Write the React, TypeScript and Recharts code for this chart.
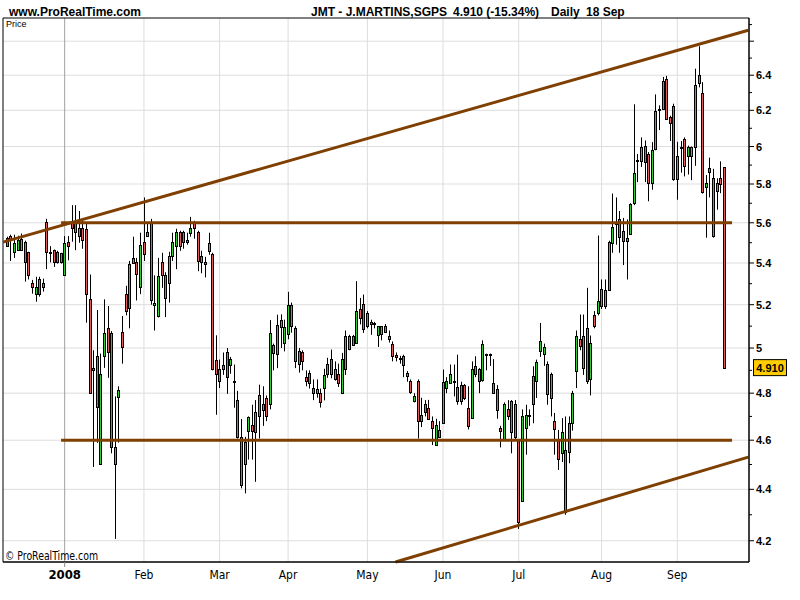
import React from "react";
import {
  ComposedChart,
  Bar,
  XAxis,
  YAxis,
  CartesianGrid,
  ReferenceLine,
  ReferenceArea,
  ReferenceDot,
} from "recharts";

// trading day index: 0 = 6 Dec 2007, 199 = 18 Sep 2008
const monthTicks = [16, 38, 59, 78, 100, 121, 142, 165, 186];
const monthLabels = ["2008", "Feb", "Mar", "Apr", "May", "Jun", "Jul", "Aug", "Sep"];

const priceTicks = [
  4.2, 4.3, 4.4, 4.5, 4.6, 4.7, 4.8, 4.9, 5, 5.1, 5.2, 5.3, 5.4, 5.5, 5.6, 5.7,
  5.8, 5.9, 6, 6.1, 6.2, 6.3, 6.4, 6.5, 6.6, 6.7,
];
const priceLabels = [4.2, 4.4, 4.6, 4.8, 5, 5.2, 5.4, 5.6, 5.8, 6, 6.2, 6.4];
const gridPrices = [4.2, 4.4, 4.6, 4.8, 5, 5.2, 5.4, 5.6, 5.8, 6, 6.2, 6.4, 6.6];

const opens = [
  5.525, 5.533, 5.455, 5.463, 5.463, 5.505, 5.455, 5.305, 5.252, 5.324,
  5.305, 5.605, 5.455, 5.463, 5.455, 5.447, 5.341, 5.505, 5.6, 5.6,
  5.533, 5.575, 5.567, 5.225, 4.901, 4.966, 4.5, 4.963, 5.093, 5.067,
  4.5, 4.782, 5.075, 5.252, 5.186, 5.4, 5.405, 5.284, 5.505, 5.533,
  5.605, 5.2, 5.147, 5.405, 5.341, 5.305, 5.433, 5.483, 5.555, 5.555,
  5.503, 5.55, 5.6, 5.555, 5.433, 5.405, 5.46, 5.446, 4.948, 4.852,
  4.904, 4.982, 4.923, 4.852, 4.771, 4.614, 4.501, 4.64, 4.664, 4.633,
  4.79, 4.728, 4.778, 4.753, 5.012, 4.973, 5.128, 5.023, 5.063, 5.198,
  5.09, 4.988, 4.98, 4.871, 4.889, 4.822, 4.8, 4.8, 4.822, 4.885,
  4.951, 4.86, 4.885, 4.8, 4.904, 5.057, 5.057, 5.023, 5.18, 5.203,
  5.16, 5.108, 5.115, 5.061, 5.066, 5.1, 5.057, 5.02, 4.97, 4.956,
  4.966, 4.873, 4.855, 4.765, 4.855, 4.679, 4.753, 4.736, 4.681, 4.582,
  4.614, 4.671, 4.822, 4.844, 4.855, 4.825, 4.764, 4.837, 4.735, 4.693,
  4.918, 4.852, 4.856, 4.972, 4.97, 4.845, 4.818, 4.65, 4.603, 4.731,
  4.767, 4.753, 4.6, 4.353, 4.65, 4.705, 4.754, 4.852, 4.985, 4.975,
  4.929, 4.884, 4.679, 4.607, 4.549, 4.309, 4.672, 4.672, 4.896, 5.04,
  4.911, 5.092, 4.862, 5.154, 5.16, 5.275, 5.192, 5.27, 5.5, 5.595,
  5.62, 5.558, 5.508, 5.545, 5.7, 5.93, 5.92, 6.005, 5.96, 5.804,
  5.987, 6.2, 6.206, 6.38, 6.163, 6.222, 5.826, 5.99, 6.04, 5.95,
  5.95, 5.996, 6.356, 6.3, 5.786, 5.882, 5.533, 5.766, 5.83, 5.89,
];

const highs = [
  5.53, 5.54, 5.54, 5.535, 5.546, 5.51, 5.455, 5.318, 5.333, 5.333,
  5.324, 5.62, 5.483, 5.466, 5.46, 5.45, 5.533, 5.533, 5.69, 5.69,
  5.66, 5.617, 5.6, 5.344, 4.99, 5.175, 4.975, 5.225, 5.194, 5.077,
  4.786, 4.83, 5.147, 5.29, 5.41, 5.53, 5.425, 5.55, 5.73, 5.6,
  5.62, 5.34, 5.425, 5.45, 5.355, 5.455, 5.55, 5.57, 5.56, 5.56,
  5.55, 5.63, 5.61, 5.56, 5.46, 5.43, 5.55, 5.45, 5.058, 4.948,
  4.98, 5.0, 4.96, 4.926, 4.81, 4.689, 4.614, 4.7, 4.75, 4.77,
  4.837, 4.83, 4.79, 5.128, 5.02, 5.153, 5.155, 5.13, 5.261, 5.21,
  5.1, 5.0, 4.99, 4.9, 4.9, 4.86, 4.86, 4.82, 4.907, 4.956,
  4.993, 4.94, 4.93, 4.978, 5.08, 5.06, 5.06, 5.312, 5.232, 5.248,
  5.17, 5.13, 5.12, 5.1, 5.1, 5.11, 5.08, 5.03, 4.98, 4.965,
  4.97, 4.897, 4.86, 4.8, 4.86, 4.78, 4.77, 4.771, 4.7, 4.69,
  4.68, 4.904, 4.87, 4.926, 4.926, 4.97, 4.85, 4.84, 4.83, 4.94,
  4.963, 4.91, 5.035, 4.975, 4.975, 4.95, 4.835, 4.66, 4.76, 4.77,
  4.77, 4.77, 4.6, 4.73, 4.75, 4.73, 4.918, 4.948, 5.115, 5.02,
  4.94, 4.89, 4.715, 4.643, 4.693, 4.7, 4.7, 4.81, 5.08, 5.154,
  5.154, 5.28, 5.057, 5.17, 5.536, 5.32, 5.32, 5.51, 5.75, 5.73,
  5.66, 5.625, 5.617, 5.7, 6.234, 5.96, 6.05, 6.033, 5.97, 6.024,
  6.29, 6.228, 6.39, 6.396, 6.17, 6.237, 6.026, 6.03, 6.05, 6.005,
  6.0, 6.438, 6.57, 6.36, 5.847, 5.94, 5.88, 5.83, 5.92, 5.89,
];

const lows = [
  5.48, 5.41, 5.425, 5.46, 5.463, 5.31, 5.32, 5.252, 5.214, 5.238,
  5.262, 5.37, 5.403, 5.381, 5.397, 5.397, 5.341, 5.413, 5.505, 5.463,
  5.5, 5.47, 5.116, 4.8, 4.49, 4.589, 4.5, 4.911, 4.867, 4.546,
  4.207, 4.59, 4.93, 5.15, 5.09, 5.4, 5.22, 5.25, 5.41, 5.53,
  5.2, 5.08, 5.14, 5.28, 5.142, 5.21, 5.41, 5.37, 5.46, 5.47,
  5.49, 5.53, 5.52, 5.36, 5.35, 5.33, 5.44, 4.9, 4.707, 4.822,
  4.88, 4.797, 4.885, 4.737, 4.607, 4.404, 4.384, 4.52, 4.52, 4.43,
  4.607, 4.66, 4.68, 4.73, 4.9, 4.91, 5.0, 4.985, 5.04, 5.07,
  4.91, 4.89, 4.9, 4.83, 4.82, 4.77, 4.78, 4.738, 4.769, 4.867,
  4.865, 4.855, 4.827, 4.8, 4.88, 4.99, 5.015, 5.02, 5.108, 5.069,
  5.09, 5.06, 5.09, 5.005, 5.035, 5.07, 5.025, 4.94, 4.94, 4.93,
  4.87, 4.85, 4.797, 4.76, 4.607, 4.655, 4.7, 4.689, 4.58, 4.58,
  4.614, 4.671, 4.8, 4.84, 4.786, 4.75, 4.75, 4.77, 4.645, 4.69,
  4.87, 4.8, 4.85, 4.9, 4.92, 4.8, 4.69, 4.57, 4.6, 4.685,
  4.546, 4.6, 4.245, 4.35, 4.54, 4.66, 4.671, 4.779, 4.96, 4.92,
  4.75, 4.7, 4.54, 4.478, 4.51, 4.3, 4.505, 4.64, 4.822, 4.99,
  4.88, 4.84, 4.79, 5.09, 5.15, 5.18, 5.18, 5.27, 5.45, 5.49,
  5.45, 5.39, 5.32, 5.54, 5.69, 5.81, 5.89, 5.81, 5.71, 5.77,
  5.98, 6.09, 6.206, 6.15, 6.03, 5.817, 5.718, 5.86, 5.84, 5.85,
  5.82, 5.896, 6.33, 5.75, 5.525, 5.73, 5.525, 5.667, 5.752, 4.91,
];

const closes = [
  5.483, 5.513, 5.497, 5.513, 5.516, 5.405, 5.341, 5.286, 5.286, 5.25,
  5.286, 5.455, 5.455, 5.405, 5.405, 5.405, 5.497, 5.483, 5.575, 5.555,
  5.575, 5.513, 5.252, 4.8, 4.911, 4.74, 4.886, 5.067, 4.982, 4.57,
  4.57, 4.815, 5.005, 5.17, 5.397, 5.425, 5.345, 5.49, 5.445, 5.555,
  5.222, 5.21, 5.337, 5.341, 5.232, 5.433, 5.505, 5.555, 5.483, 5.505,
  5.515, 5.575, 5.575, 5.41, 5.405, 5.397, 5.5, 4.907, 4.886, 4.904,
  4.926, 4.87, 4.95, 4.852, 4.614, 4.418, 4.593, 4.697, 4.64, 4.721,
  4.7, 4.753, 4.7, 5.07, 4.978, 5.105, 5.095, 5.094, 5.198, 5.1,
  4.94, 4.929, 4.94, 4.852, 4.845, 4.8, 4.818, 4.761, 4.881, 4.929,
  4.885, 4.904, 4.845, 4.951, 5.057, 4.995, 5.015, 5.172, 5.138, 5.085,
  5.1, 5.12, 5.108, 5.1, 5.1, 5.075, 5.042, 4.966, 4.96, 4.955,
  4.926, 4.89, 4.807, 4.786, 4.68, 4.707, 4.721, 4.689, 4.65, 4.664,
  4.643, 4.847, 4.855, 4.886, 4.855, 4.764, 4.837, 4.779, 4.66, 4.904,
  4.886, 4.907, 5.02, 4.97, 4.973, 4.8, 4.729, 4.64, 4.753, 4.7,
  4.636, 4.614, 4.27, 4.7, 4.707, 4.705, 4.874, 4.938, 5.034, 5.005,
  4.796, 4.779, 4.646, 4.522, 4.633, 4.56, 4.553, 4.8, 5.055, 5.008,
  5.055, 4.852, 5.023, 5.1, 5.216, 5.192, 5.27, 5.505, 5.58, 5.6,
  5.53, 5.508, 5.525, 5.694, 5.86, 5.93, 5.996, 5.915, 5.804, 5.98,
  6.195, 6.206, 6.366, 6.154, 6.13, 5.826, 5.947, 5.996, 5.896, 5.996,
  5.996, 6.343, 6.4, 5.757, 5.803, 5.865, 5.833, 5.803, 5.8, 4.91,
];

// drawn lines, [dayIndex, price]
const upperTrend = [[-1.1, 5.503], [205.7, 6.666]];
const lowerTrend = [[107.8, 4.12], [205.7, 4.53]];
const resistance = [[15, 5.6], [201.2, 5.6]];
const support = [[15, 4.6], [201.2, 4.6]];

const xMin = -1.11;
const xMax = 205.9;
const yMin = 4.12;
const yMax = 6.74;

const UP = "#33cc33";
const DOWN = "#e35c5c";
const BROWN = "#7f3f00";
const FONT = "'Liberation Sans', Arial, sans-serif";
const NARROW = "'Liberation Sans Narrow', 'DejaVu Sans Condensed', 'Liberation Sans', sans-serif";

const data = opens.map((o, i) => ({
  i,
  o,
  h: highs[i],
  l: lows[i],
  c: closes[i],
  range: [lows[i], highs[i]],
}));

const last = closes[closes.length - 1];
const prev = closes[closes.length - 2];
const pct = ((last / prev - 1) * 100).toFixed(2);

function Candle(props: any) {
  const { x, y, width, height, payload } = props;
  if (x == null || y == null || !payload) return null;
  const { o, h, l, c } = payload;
  const cx = Math.round(x + width / 2) + 0.5;
  const lh = Math.log(h);
  const ll = Math.log(l);
  const toY = (v: number) =>
    lh === ll ? y : y + ((lh - Math.log(v)) / (lh - ll)) * height;
  const yo = toY(o);
  const yc = toY(c);
  const top = Math.round(Math.min(yo, yc)) + 0.5;
  const bot = Math.max(Math.round(Math.max(yo, yc)) + 0.5, top + 1);
  return (
    <g>
      <line x1={cx} x2={cx} y1={y} y2={y + height} stroke="#000" strokeWidth={1} />
      <rect
        x={cx - 1}
        y={top}
        width={2}
        height={bot - top}
        fill={c >= o ? UP : DOWN}
        stroke="#000"
        strokeWidth={1}
      />
    </g>
  );
}

function PriceTick(props: any) {
  const { x, y, payload } = props;
  const v = payload.value as number;
  const major = Math.round(v * 10) % 2 === 0;
  return (
    <g>
      <line x1={x} x2={x + (major ? 5 : 3)} y1={y} y2={y} stroke="#000" />
      {priceLabels.includes(v) && (
        <text x={x + 7} y={y + 4} fontSize={11} fontWeight="bold" fontFamily={FONT} fill="#000">
          {String(v)}
        </text>
      )}
    </g>
  );
}

function MonthTick(props: any) {
  const { x, y, payload } = props;
  const idx = monthTicks.indexOf(payload.value);
  const first = idx === 0;
  return (
    <g>
      {first && <line x1={x} x2={x} y1={y} y2={y + 5} stroke="#888" />}
      <text
        x={x}
        y={y + 17}
        textAnchor="middle"
        fontSize={first ? 13 : 12}
        fontWeight={first ? "bold" : "normal"}
        fontFamily={NARROW}
        fill="#000"
      >
        {monthLabels[idx]}
      </text>
    </g>
  );
}

function LastPrice(props: any) {
  const { cx, cy } = props;
  if (cx == null || cy == null) return null;
  return (
    <g>
      <rect x={cx + 4.5} y={cy - 8.5} width={33} height={16} fill="#ffcc00" stroke="#000" />
      <text x={cx + 21} y={cy + 4} textAnchor="middle" fontSize={11} fontWeight="bold" fontFamily={FONT}>
        {last.toFixed(3)}
      </text>
    </g>
  );
}

const seg = (pts: number[][]) => pts.map(([x, y]) => ({ x, y }));

export default function App() {
  return (
    <div style={{ position: "absolute", left: 0, top: 0, width: 800, height: 600, background: "#fff" }}>
      <ComposedChart
        width={800}
        height={600}
        data={data}
        margin={{ top: 18, right: 0, bottom: 0, left: 3 }}
      >
        <CartesianGrid
          horizontalValues={gridPrices}
          verticalValues={monthTicks.slice(1)}
          stroke="#dddddd"
        />
        <CartesianGrid horizontal={false} verticalValues={[monthTicks[0]]} stroke="#a0a0a0" />
        <XAxis
          type="number"
          dataKey="i"
          domain={[xMin, xMax]}
          allowDataOverflow
          ticks={monthTicks}
          interval={0}
          tick={<MonthTick />}
          tickLine={false}
          tickSize={0}
          tickMargin={0}
          axisLine={{ stroke: "#000" }}
          height={38}
        />
        <YAxis
          orientation="right"
          scale="log"
          domain={[yMin, yMax]}
          allowDataOverflow
          ticks={priceTicks}
          interval={0}
          tick={<PriceTick />}
          tickLine={false}
          tickSize={0}
          tickMargin={0}
          axisLine={{ stroke: "#000" }}
          width={51}
        />
        <Bar dataKey="range" barSize={3} shape={<Candle />} isAnimationActive={false} />
        <ReferenceLine segment={seg(upperTrend)} stroke={BROWN} strokeWidth={3} ifOverflow="visible" />
        <ReferenceLine segment={seg(lowerTrend)} stroke={BROWN} strokeWidth={3} ifOverflow="visible" />
        <ReferenceLine segment={seg(resistance)} stroke={BROWN} strokeWidth={3} ifOverflow="visible" />
        <ReferenceLine segment={seg(support)} stroke={BROWN} strokeWidth={3} ifOverflow="visible" />
        <ReferenceArea
          x1={xMin}
          x2={xMax}
          y1={yMin}
          y2={yMax}
          fill="none"
          stroke="#000"
          strokeWidth={1}
          ifOverflow="visible"
        />
        <ReferenceDot x={xMax} y={last} r={0} ifOverflow="visible" shape={<LastPrice />} />
      </ComposedChart>
      <svg
        width={800}
        height={600}
        style={{ position: "absolute", left: 0, top: 0, pointerEvents: "none" }}
      >
        <text x={9} y={16} fontSize={12} fontWeight="bold" fontFamily={FONT}>
          www.ProRealTime.com
        </text>
        <text x={311} y={16} fontSize={12} fontWeight="bold" fontFamily={FONT}>
          JMT - J.MARTINS,SGPS
        </text>
        <text x={453} y={16} fontSize={12} fontWeight="bold" fontFamily={FONT}>
          {`${last.toFixed(3)} (${pct}%)`}
        </text>
        <text x={551} y={16} fontSize={12} fontWeight="bold" fontFamily={FONT}>
          Daily
        </text>
        <text x={586} y={16} fontSize={12} fontWeight="bold" fontFamily={FONT}>
          18 Sep
        </text>
        <text x={6} y={27} fontSize={9} fontFamily={FONT}>
          Price
        </text>
        <text x={5} y={560} fontSize={12} fontFamily={NARROW} textLength={93} lengthAdjust="spacingAndGlyphs">
          © ProRealTime.com
        </text>
      </svg>
    </div>
  );
}
